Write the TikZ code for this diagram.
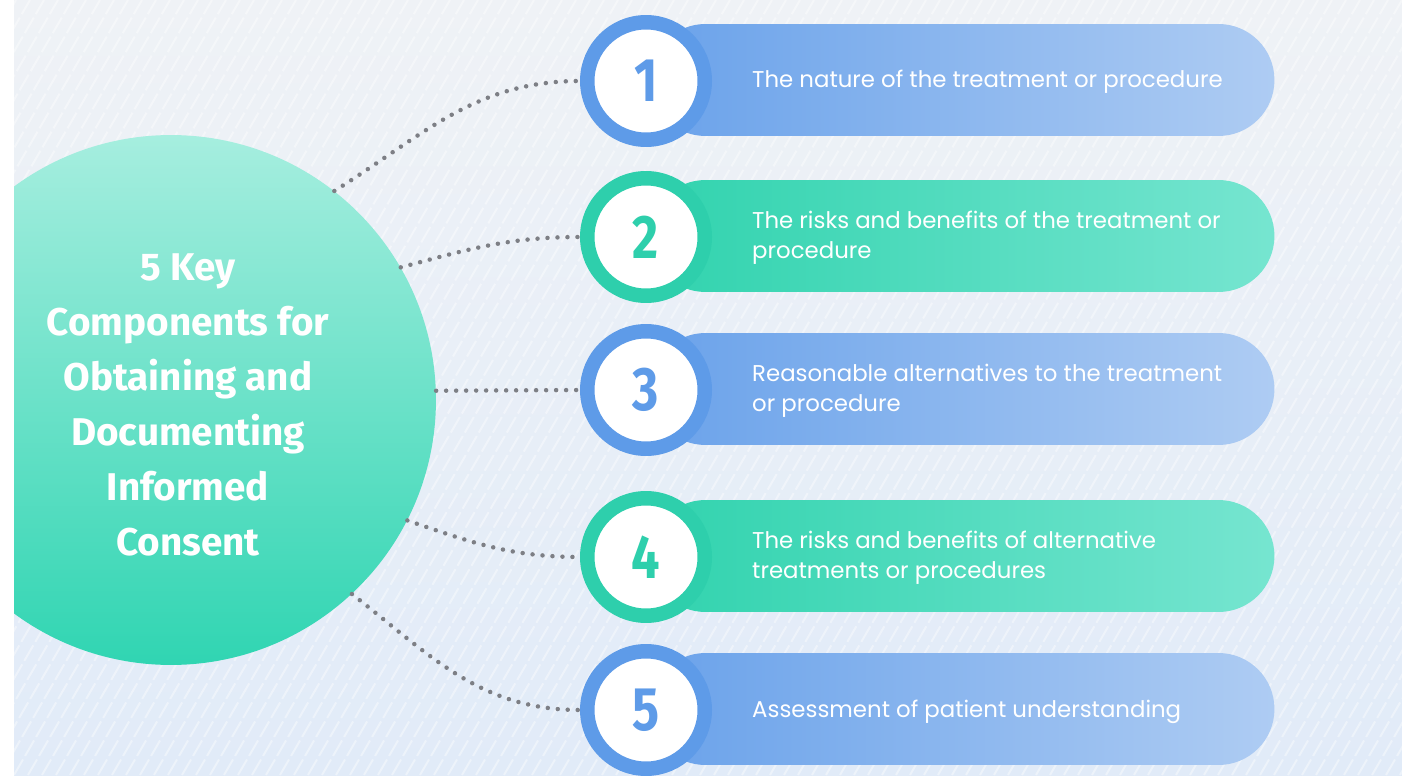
\documentclass[tikz,border=0pt]{standalone}
\usepackage{fontspec}
\setmainfont{Poppins}
\newfontfamily\headfont{Fira Sans}
\newfontfamily\numfont[FakeStretch=0.82]{Fira Sans}
\usetikzlibrary{positioning}

\definecolor{bgtop}{HTML}{EFF2F6}
\definecolor{bgbot}{HTML}{E1EBF8}
\definecolor{mintlt}{HTML}{A6EEDF}
\definecolor{mintdk}{HTML}{30D5B2}
\definecolor{bluedk}{HTML}{6AA2EA}
\definecolor{bluelt}{HTML}{AECCF3}
\definecolor{tealdk}{HTML}{31D3AE}
\definecolor{teallt}{HTML}{76E5D0}
\definecolor{ringblue}{HTML}{5E9BE8}
\definecolor{ringteal}{HTML}{2ECFAC}
\definecolor{dotgray}{HTML}{7D7F85}

\tikzset{
  hub/.style={circle, minimum size=10.6cm, top color=mintlt, bottom color=mintdk},
  title/.style={text=white, align=center, font=\headfont\bfseries\fontsize{22}{31.4}\selectfont},
  pill/.style={rectangle, rounded corners=1.12cm, minimum width=12.5cm,
    minimum height=2.24cm, left color=#1dk, right color=#1lt},
  ring/.style={circle, fill=white, draw=ring#1, line width=0.29cm,
    minimum size=2.35cm, text=ring#1, font=\numfont\bfseries\fontsize{35}{35}\selectfont},
  itemtext/.style={anchor=west, text=white, align=left, font=\fontsize{13}{17}\selectfont},
  dotlink/.style={dotgray, line width=0.09cm, line cap=round, dash pattern=on 0pt off 0.2cm},
  stripe/.style={white, opacity=0.4, line width=0.04cm, dash pattern=on 0.36cm off 0.08cm}
}

\begin{document}
\begin{tikzpicture}[x=0.02cm, y=-0.02cm]
  \useasboundingbox (0,0) rectangle (1402,780);
  \fill[white] (0,0) rectangle (1402,780);

  % Backdrop and big circle
  \begin{scope}
    \clip (14,0) rectangle (1402,775);
    \shade[top color=bgtop, bottom color=bgbot] (14,0) rectangle (1402,775);
    \foreach \s in {-33,...,100}
      \draw[stripe] (\s*14,775) -- ++(450,-775);
    \node[hub] (hub) at (171,400) {};
  \end{scope}
  \node[title] (head) at (188,405)
    {5 Key\\Components for\\Obtaining and\\Documenting\\Informed\\Consent};

  % Pills
  \node[pill=blue] (p1) at (962,80) {};
  \node[pill=teal] (p2) at (962,236) {};
  \node[pill=blue] (p3) at (962,389) {};
  \node[pill=teal] (p4) at (962,556) {};
  \node[pill=blue] (p5) at (962,709) {};

  % Number rings
  \node[ring=blue] (n1) at (646,81) {1};
  \node[ring=teal] (n2) at (646,237) {2};
  \node[ring=blue] (n3) at (646,390) {3};
  \node[ring=teal] (n4) at (646,557) {4};
  \node[ring=blue] (n5) at (646,710) {5};

  % Item texts
  \node[itemtext] (t1) at (746,82) {The nature of the treatment or procedure};
  \node[itemtext] (t2) at (746,238) {The risks and benefits of the treatment or\\procedure};
  \node[itemtext] (t3) at (746,391) {Reasonable alternatives to the treatment\\or procedure};
  \node[itemtext] (t4) at (746,558) {The risks and benefits of alternative\\treatments or procedures};
  \node[itemtext] (t5) at (746,712) {Assessment of patient understanding};

  % Dotted links
  \draw[dotlink] (hub.52) to[out=32, in=180] (n1.west);
  \draw[dotlink] (hub.30) to[out=15, in=180] (n2.west);
  \draw[dotlink] (hub.2) -- (n3.west);
  \draw[dotlink] (hub.-27) to[out=-19, in=180] (n4.west);
  \draw[dotlink] (hub.-47) to[out=-38, in=180] (n5.west);
\end{tikzpicture}
\end{document}
